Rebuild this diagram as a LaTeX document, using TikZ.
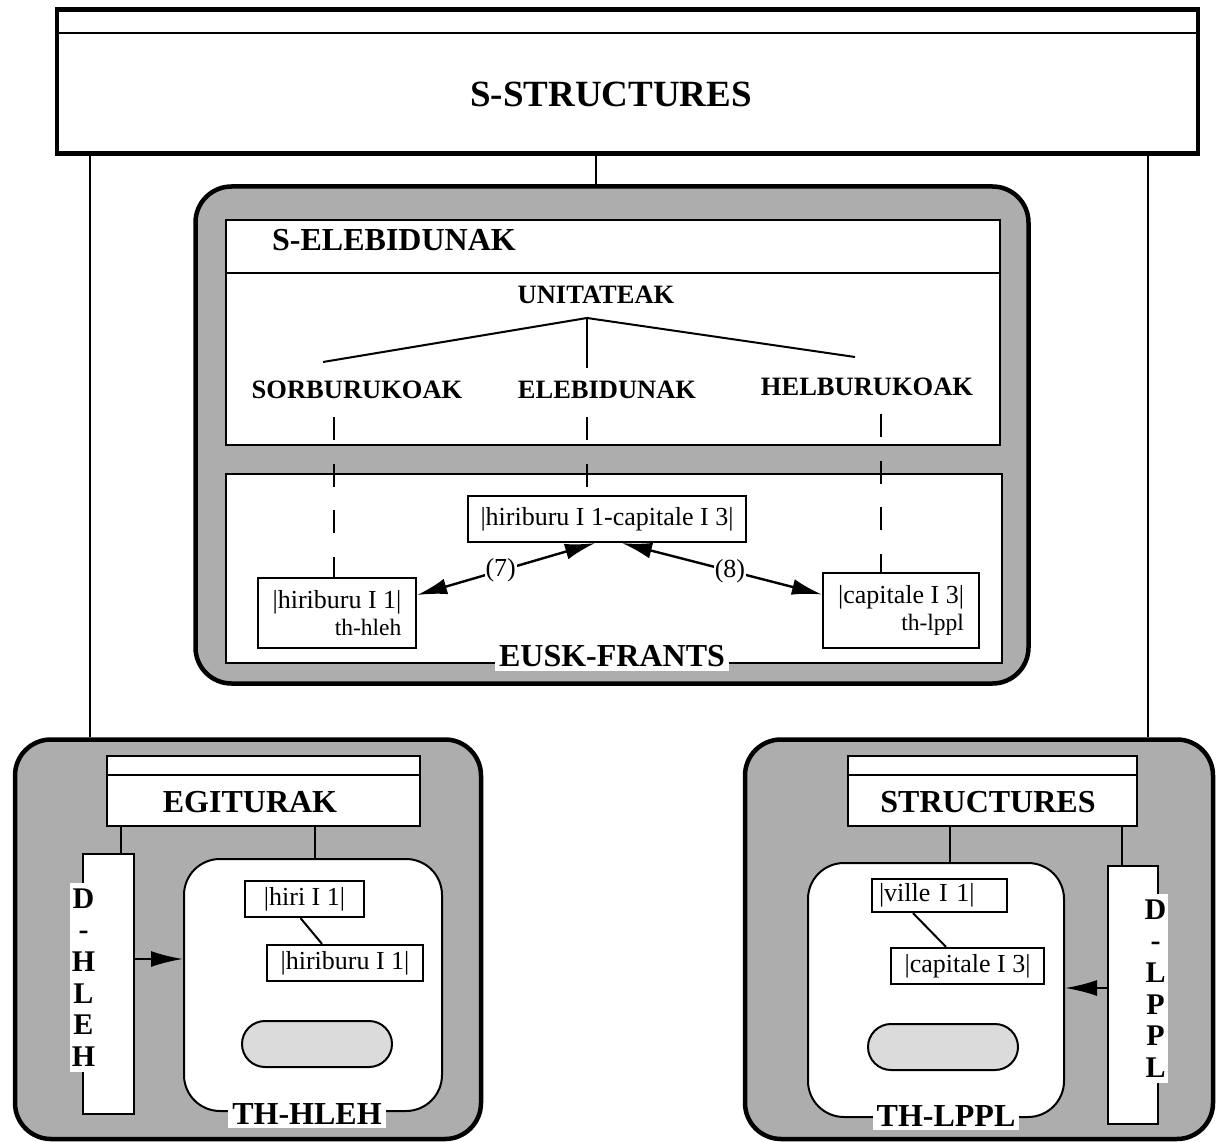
\documentclass[tikz,border=0pt]{standalone}
\usepackage{fontspec}
\setmainfont{Liberation Serif}
\usepackage{tikz}
\usetikzlibrary{arrows.meta}

\definecolor{pkggray}{gray}{0.68}
\definecolor{blobgray}{gray}{0.86}

\newcommand\titlefont{\fontsize{37}{42}\selectfont\bfseries}
\newcommand\hdrfont{\fontsize{32}{36}\selectfont\bfseries}
\newcommand\treefont{\fontsize{26.5}{30}\selectfont\bfseries}
\newcommand\vletters{\fontsize{30}{31.6}\selectfont\bfseries}
\newcommand\unitfont{\fontsize{26}{27}\selectfont}
\newcommand\thfont{\fontsize{23.5}{27}\selectfont}

\tikzset{
  frame/.style={draw, line width=4.5pt, fill=white, inner sep=0pt},
  pkg/.style={draw, line width=4.5pt, fill=pkggray, rounded corners=36pt, inner sep=0pt},
  panel/.style={draw, line width=2pt, fill=white, inner sep=0pt},
  thbox/.style={draw, line width=2pt, fill=white, rounded corners=36pt, inner sep=0pt},
  unitbox/.style={draw, line width=2.2pt, fill=white, inner sep=0pt, font=\unitfont},
  blob/.style={draw, line width=2pt, fill=blobgray, rounded corners=23pt,
    minimum width=150pt, minimum height=46pt, inner sep=0pt},
  link/.style={line width=2pt},
  dashlink/.style={line width=2pt, dash pattern=on 23pt off 23.5pt},
  rel/.style={line width=2.4pt, {Latex[length=30pt,width=16pt]}-{Latex[length=30pt,width=16pt]}},
  feed/.style={line width=2.4pt, -{Latex[length=32pt,width=16pt]}},
  hdr/.style={font=\hdrfont},
  tag/.style={font=\hdrfont, fill=white, inner sep=4pt},
  vtag/.style={font=\vletters, fill=white, align=center, inner xsep=2pt, inner ysep=6pt},
  treelbl/.style={font=\treefont},
  numlbl/.style={font=\unitfont, fill=white, inner sep=1pt}
}

\begin{document}
\begin{tikzpicture}[x=1pt, y=-1pt]
\useasboundingbox (0,0) rectangle (1218,1142);

% S-STRUCTURES frame
\node[frame, minimum width=1141pt, minimum height=144pt] (sstruct) at (627.5,81.5) {};
\draw[link] (sstruct.west |- 0,33) -- (sstruct.east |- 0,33);
\node[font=\titlefont] (stitle) at (611,94) {S-STRUCTURES};

% Packages
\node[pkg, minimum width=833pt, minimum height=497pt] (selebpkg) at (612,435) {};
\node[pkg, minimum width=466pt, minimum height=399.5pt] (lpkg) at (248,939.25) {};
\node[pkg, minimum width=468pt, minimum height=399.5pt] (rpkg) at (979,939.25) {};

\draw[link] (sstruct.south -| 90,0) -- (lpkg.north -| 90,0);
\draw[link] (sstruct.south -| 596,0) -- (selebpkg.north -| 596,0);
\draw[link] (sstruct.south -| 1148,0) -- (rpkg.north -| 1148,0);

% S-ELEBIDUNAK
\node[panel, minimum width=774pt, minimum height=225pt] (unitpanel) at (613,332.5) {};
\draw[link] (unitpanel.west |- 0,273) -- (unitpanel.east |- 0,273);
\node[hdr] (selebtitle) at (394,240) {S-ELEBIDUNAK};
\node[panel, minimum width=776pt, minimum height=189pt] (euskpanel) at (614,568.5) {};

\node[treelbl] (unitateak) at (596,295) {UNITATEAK};
\node[treelbl] (sorb) at (357,390) {SORBURUKOAK};
\node[treelbl] (elebi) at (607,390) {ELEBIDUNAK};
\node[treelbl] (helb) at (867,387) {HELBURUKOAK};

\coordinate (apex) at (587,318);
\coordinate (sorbend) at (323,362);
\coordinate (helbend) at (855,357);
\coordinate (elebend) at (587,368);
\draw[link] (sorbend) -- (apex) -- (helbend);
\draw[link] (apex) -- (elebend);

\node[unitbox, minimum width=278pt, minimum height=46pt] (pair) at (607,519) {|hiriburu I 1-capitale I 3|};
\node[unitbox, align=right, minimum width=158pt, minimum height=70pt] (srcunit) at (337,613)
  {|hiriburu I 1|\\{\thfont th-hleh}};
\node[unitbox, align=right, minimum width=156pt, minimum height=75pt] (tgtunit) at (901,610.5)
  {|capitale I 3|\\{\thfont th-lppl}};

\draw[dashlink] (334,0 |- sorb.south) ++(0,15) -- (srcunit.north -| 334,0);
\draw[dashlink] (587,0 |- elebi.south) ++(0,15) -- (pair.north -| 587,0);
\draw[dashlink] (881,0 |- helb.south) ++(0,15) -- (tgtunit.north -| 881,0);

\draw[rel] ([yshift=18pt]srcunit.east) -- node[numlbl, pos=0.47] (rel7) {(7)} ([xshift=-12pt]pair.south);
\draw[rel] ([xshift=15pt]pair.south) -- node[numlbl, pos=0.54] (rel8) {(8)} ([yshift=16pt]tgtunit.west);

\node[tag] (eusk) at (612,656) {EUSK-FRANTS};

% Left package: EGITURAK
\node[panel, minimum width=313pt, minimum height=70pt] (egit) at (263.5,791) {};
\draw[link] (egit.west |- 0,775) -- (egit.east |- 0,775);
\node[hdr] (egittitle) at (250,802) {EGITURAK};

\node[panel, minimum width=51pt, minimum height=260pt] (dhleh) at (108.5,984) {};
\node[vtag] (dhlehlbl) at (83.5,977.5) {D\\-\\H\\L\\E\\H};
\node[thbox, minimum width=258pt, minimum height=252pt] (thhleh) at (313,985) {};
\node[tag] (thhlehlbl) at (307,1114) {TH-HLEH};

\draw[link] (egit.south -| 121,0) -- (dhleh.north -| 121,0);
\draw[link] (egit.south -| 315,0) -- (thhleh.north -| 315,0);

\node[unitbox, minimum width=119pt, minimum height=36pt] (hiri) at (304.5,899) {|hiri I 1|};
\node[unitbox, minimum width=156pt, minimum height=36pt] (hiriburu) at (345,963) {|hiriburu I 1|};
\draw[link] ([xshift=-4pt]hiri.south) -- ([xshift=-23pt]hiriburu.north);
\node[blob] (lblob) at (317,1044) {};

\draw[feed] (dhleh.east |- 0,959) -- (thhleh.west |- 0,959);

% Right package: STRUCTURES
\node[panel, minimum width=289pt, minimum height=70pt] (struct) at (992.5,791) {};
\draw[link] (struct.west |- 0,775) -- (struct.east |- 0,775);
\node[hdr] (structtitle) at (988,802) {STRUCTURES};

\node[thbox, minimum width=256pt, minimum height=254pt] (thlppl) at (936,990) {};
\node[tag] (thlppllbl) at (946,1116) {TH-LPPL};
\node[panel, minimum width=50pt, minimum height=258pt] (dlppl) at (1133,995) {};
\node[vtag] (dlppllbl) at (1155.5,988.5) {D\\-\\L\\P\\P\\L};

\draw[link] (struct.south -| 950,0) -- (thlppl.north -| 950,0);
\draw[link] (struct.south -| 1122,0) -- (dlppl.north -| 1122,0);

\node[unitbox, text width=121pt, align=left, minimum width=135pt, minimum height=33pt] (ville) at (939.5,895.5) {|ville I 1|};
\node[unitbox, minimum width=153pt, minimum height=36pt] (capit) at (967.5,966) {|capitale I 3|};
\draw[link] ([xshift=-26.5pt]ville.south) -- ([xshift=-21.5pt]capit.north);
\node[blob] (rblob) at (943,1047) {};

\draw[feed] (dlppl.west |- 0,988) -- (thlppl.east |- 0,988);

\end{tikzpicture}
\end{document}
